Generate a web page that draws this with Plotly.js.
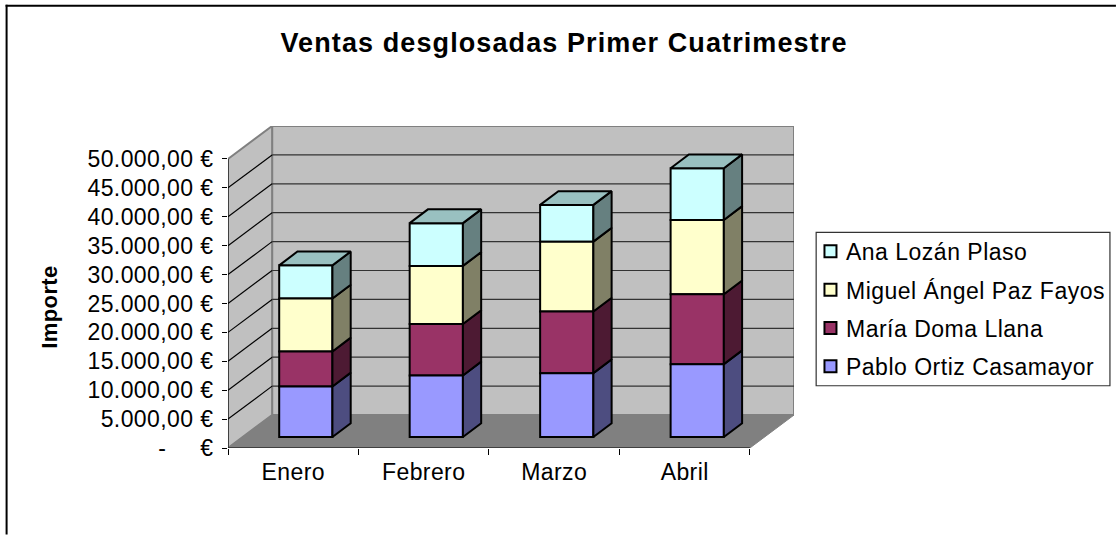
<!DOCTYPE html>
<html><head><meta charset="utf-8">
<script src="https://cdn.plot.ly/plotly-3.0.1.min.js"></script>
<style>html,body{margin:0;padding:0;background:#fff}
#chart{width:1117px;height:535px}
#chart .legendtext{letter-spacing:.5px;translate:-4.5px 0}
#chart .ytick text,#chart .xtick text{letter-spacing:.4px}
#chart .gtitle{letter-spacing:1.1px}
#chart .ytitle{letter-spacing:.4px;translate:0 20px}
</style></head><body><div id="chart"></div>
<script>
const months = ['Enero','Febrero','Marzo','Abril'];
const pablo  = [8750,10650,11050,12600];
const maria  = [6050,8900,10650,12100];
const miguel = [9150,10050,12100,12850];
const ana    = [5750,7400,6350,8950];
const seriesNames = ['Pablo Ortiz Casamayor','María Doma Llana','Miguel Ángel Paz Fayos','Ana Lozán Plaso'];
const seriesValues = [pablo,maria,miguel,ana];
const frontColors = ['#9999ff','#993366','#ffffcc','#ccffff'];
const sideColors  = ['#4d4d80','#4d1a33','#808066','#668080'];
const topColor = '#99c0c0';
const yTicks = [0,5000,10000,15000,20000,25000,30000,35000,40000,45000,50000];
const yTickText = ['-     €','5.000,00 €','10.000,00 €','15.000,00 €','20.000,00 €','25.000,00 €','30.000,00 €','35.000,00 €','40.000,00 €','45.000,00 €','50.000,00 €'];

// pixel geometry of the oblique projection
const L=227.5, B=448.3, catPx=130.7, kPx=5.786;
const depthX=44.2/catPx, depthY=33/kPx*1000;
const xMax=4+depthX, yMax=50000+depthY;
const barW=0.408, barDX=18.3/catPx, barDY=13.8/kPx*1000;
const offX=12.6/catPx, offY=11/kPx*1000;

const shapes=[];
const poly=(pts,fill,col,w)=>shapes.push({type:'path',layer:'below',xref:'x',yref:'y',
  path:'M'+pts.map(p=>p[0]+','+p[1]).join('L')+'Z',fillcolor:fill,line:{color:col,width:w}});
const seg=(a,b,col,w)=>shapes.push({type:'line',layer:'below',xref:'x',yref:'y',x0:a[0],y0:a[1],x1:b[0],y1:b[1],line:{color:col,width:w}});
poly([[depthX,depthY],[xMax,depthY],[xMax,yMax],[depthX,yMax]],'#c0c0c0','#808080',2);
poly([[0,0],[depthX,depthY],[depthX,yMax],[0,50000]],'#c0c0c0','#808080',2);
poly([[0,0],[4,0],[xMax,depthY],[depthX,depthY]],'#808080','#808080',1);
yTicks.slice(1,-1).forEach(v=>{
  seg([0,v],[depthX,v+depthY],'#000',1.2);
  seg([depthX,v+depthY],[xMax,v+depthY],'#333',1.2);
});
seg([depthX,50000+depthY],[xMax,50000+depthY],'#808080',2);
seg([0,0],[0,50000],'#000',1);
seg([0,0],[4,0],'#000',1);

// chart frame (cropped on the right and at the bottom in the reference) and legend box
const W=1117,H=535,mL=L,mR=W-(L+xMax*catPx),mB=H-B,mT=B-yMax/1000*kPx;
const pw=W-mL-mR,ph=H-mT-mB;
const fx=p=>(p-mL)/pw, fy=p=>(H-mB-p)/ph;
const frame=(x0,y0,x1,y1)=>shapes.push({type:'line',xref:'paper',yref:'paper',x0:fx(x0),x1:fx(x1),y0:fy(y0),y1:fy(y1),line:{color:'#000',width:2},layer:'below'});
frame(4.7,5.7,1117,5.7);
frame(5.7,4.7,5.7,535);
shapes.push({type:'rect',xref:'paper',yref:'paper',x0:fx(816.7),x1:fx(1111),y0:fy(232.5),y1:fy(386),line:{color:'#333',width:1.2},fillcolor:'#fff',layer:'below'});

const traces=[];
let cum=[0,0,0,0];
const barTraces=[];
seriesValues.forEach((vals,s)=>{
  barTraces.unshift({type:'bar',name:seriesNames[s],
    x:months.map((m,i)=>i+.5+offX),y:vals,base:cum.map(c=>c+offY),width:barW,
    marker:{color:frontColors[s],line:{color:'#000',width:2}},hoverinfo:'skip',legendgroup:seriesNames[s]});
  cum=cum.map((c,i)=>c+vals[i]);
});
traces.push(...barTraces);
let low=[0,0,0,0];
seriesValues.forEach((vals,s)=>{
  const sx=[],sy=[];
  months.forEach((m,i)=>{
    const r=i+.5+offX+barW/2, y0=low[i]+offY, y1=y0+vals[i];
    sx.push(r,r+barDX,r+barDX,r,r,null);
    sy.push(y0,y0+barDY,y1+barDY,y1,y0,null);
  });
  traces.push({type:'scatter',mode:'lines',x:sx,y:sy,fill:'toself',fillcolor:sideColors[s],
    line:{color:'#000',width:2},showlegend:false,hoverinfo:'skip'});
  low=low.map((c,i)=>c+vals[i]);
});
const tx=[],ty=[];
months.forEach((m,i)=>{
  const l=i+.5+offX-barW/2,r=l+barW,y=low[i]+offY;
  tx.push(l,r,r+barDX,l+barDX,l,null);
  ty.push(y,y,y+barDY,y+barDY,y,null);
});
traces.push({type:'scatter',mode:'lines',x:tx,y:ty,fill:'toself',fillcolor:topColor,
  line:{color:'#000',width:2},showlegend:false,hoverinfo:'skip'});

const font='"Liberation Sans",Arial,sans-serif';
Plotly.newPlot('chart',traces,{
  width:W,height:H,margin:{l:mL,r:mR,t:mT,b:mB,pad:0},
  paper_bgcolor:'#fff',plot_bgcolor:'rgba(0,0,0,0)',
  barmode:'overlay',bargap:0,showlegend:true,shapes,
  font:{family:font,color:'#000'},
  title:{text:'<b>Ventas desglosadas Primer Cuatrimestre</b>',font:{family:font,size:27,color:'#000'},
    x:564/W,xanchor:'center',y:1-43/H,yanchor:'middle'},
  xaxis:{range:[0,xMax],tickmode:'array',tickvals:months.map((m,i)=>i+.5),ticktext:months,ticks:'',
    showgrid:false,zeroline:false,showline:false,tickfont:{size:23},ticklabelstandoff:8,
    minor:{tickmode:'array',tickvals:[0,1,2,3,4],ticks:'outside',ticklen:6,tickcolor:'#000',tickwidth:1,showgrid:false}},
  yaxis:{range:[0,yMax],tickmode:'array',tickvals:yTicks,ticktext:yTickText,ticks:'outside',ticklen:5,tickcolor:'#000',tickwidth:1,
    showgrid:false,zeroline:false,showline:false,tickfont:{size:23},ticklabelstandoff:4,
    title:{text:'<b>Importe</b>',font:{family:font,size:22,color:'#000'},standoff:28}},
  legend:{x:fx(811),xanchor:'left',y:fy(230),yanchor:'top',traceorder:'grouped',tracegroupgap:5.4,
    entrywidth:258,entrywidthmode:'pixels',
    borderwidth:0,bgcolor:'rgba(0,0,0,0)',font:{family:font,size:23,color:'#000'},itemclick:false,itemdoubleclick:false}
},{displayModeBar:false,staticPlot:true});
</script></body></html>
